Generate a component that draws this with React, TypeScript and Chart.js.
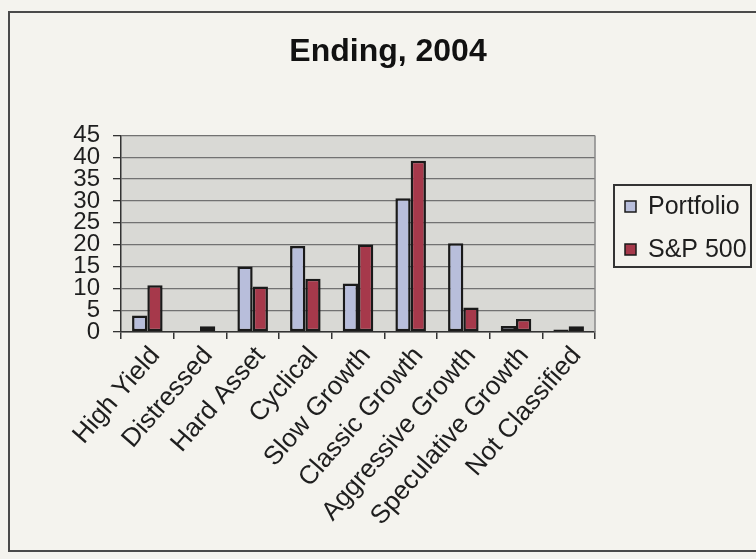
import React, { useEffect, useRef } from 'react';
import { Chart, registerables } from 'chart.js';

Chart.register(...registerables);

const TITLE = 'Ending, 2004';
const categories = [
  'High Yield',
  'Distressed',
  'Hard Asset',
  'Cyclical',
  'Slow Growth',
  'Classic Growth',
  'Aggressive Growth',
  'Speculative Growth',
  'Not Classified',
];
const seriesNames = ['Portfolio', 'S&P 500'];
const portfolio = [3.8, 0, 15.0, 19.7, 11.1, 30.6, 20.3, 1.4, 0.6];
const sp500 = [10.7, 1.3, 10.4, 12.2, 20.0, 39.2, 5.6, 3.0, 1.3];
const yMin = 0;
const yMax = 45;
const yStep = 5;

const seriesColors = ['#b8bedb', '#a6394b'];
const FONT = '"Liberation Sans", Arial, Helvetica, sans-serif';
const PAGE_BG = '#f4f3ee';
const PLOT_BG = '#d9d9d5';

const backgroundPlugin = {
  id: 'bgFrame',
  beforeDraw(chart: any) {
    const { ctx, chartArea, width, height } = chart;
    ctx.save();
    ctx.fillStyle = PAGE_BG;
    ctx.fillRect(0, 0, width, height);
    ctx.strokeStyle = '#4a4a4a';
    ctx.lineWidth = 2;
    ctx.strokeRect(9, 12, width + 20, 539);
    ctx.fillStyle = PLOT_BG;
    ctx.fillRect(chartArea.left, chartArea.top, chartArea.right - chartArea.left, chartArea.bottom - chartArea.top);
    ctx.restore();
  },
  afterDatasetsDraw(chart: any) {
    const { ctx, chartArea } = chart;
    ctx.save();
    ctx.strokeStyle = '#888';
    ctx.lineWidth = 1.5;
    ctx.beginPath();
    ctx.moveTo(chartArea.right, chartArea.top);
    ctx.lineTo(chartArea.right, chartArea.bottom);
    ctx.stroke();
    ctx.restore();
  },
};

const legendBoxPlugin = {
  id: 'legendBox',
  afterDraw(chart: any) {
    const { ctx } = chart;
    const ds = chart.data.datasets;
    ctx.save();
    ctx.fillStyle = PAGE_BG;
    ctx.fillRect(614, 185, 137, 82);
    ctx.strokeStyle = '#333';
    ctx.lineWidth = 2;
    ctx.strokeRect(614, 185, 137, 82);
    ctx.font = `25px ${FONT}`;
    ctx.textBaseline = 'middle';
    ctx.textAlign = 'left';
    ds.forEach((d: any, i: number) => {
      const cy = 207 + i * 43;
      ctx.fillStyle = d.backgroundColor;
      ctx.fillRect(625, cy - 6, 11, 11);
      ctx.strokeStyle = '#1a1a1a';
      ctx.lineWidth = 1.5;
      ctx.strokeRect(625, cy - 6, 11, 11);
      ctx.fillStyle = '#1e1e1e';
      ctx.fillText(d.label, 648, cy);
    });
    ctx.restore();
  },
};

export default function App() {
  const ref = useRef<HTMLCanvasElement | null>(null);

  useEffect(() => {
    document.body.style.margin = '0';
    const canvas = ref.current;
    if (!canvas) return;
    Chart.defaults.font.family = FONT;
    const chart = new Chart(canvas, {
      type: 'bar',
      data: {
        labels: categories,
        datasets: [
          {
            label: seriesNames[0],
            data: portfolio,
            backgroundColor: seriesColors[0],
            borderColor: '#1a1a1a',
            borderWidth: 2.5,
            borderSkipped: false,
            categoryPercentage: 0.58,
            barPercentage: 1,
          },
          {
            label: seriesNames[1],
            data: sp500,
            backgroundColor: seriesColors[1],
            borderColor: '#1a1a1a',
            borderWidth: 2.5,
            borderSkipped: false,
            categoryPercentage: 0.58,
            barPercentage: 1,
          },
        ],
      },
      options: {
        responsive: false,
        animation: false,
        devicePixelRatio: 1,
        layout: { padding: { left: 20, top: 0, right: 0, bottom: 0 } },
        plugins: {
          legend: { display: false },
          tooltip: { enabled: false },
          title: {
            display: true,
            text: TITLE,
            color: '#111',
            font: { size: 32, weight: 'bold', family: FONT },
            padding: { top: 33, bottom: 64 },
          },
        },
        scales: {
          x: {
            grid: {
              offset: true,
              drawOnChartArea: false,
              drawTicks: true,
              tickLength: 7,
              tickColor: '#333',
              color: '#333',
              lineWidth: 1.5,
            },
            border: { display: true, color: '#333', width: 1.5 },
            ticks: {
              autoSkip: false,
              maxRotation: 49,
              minRotation: 49,
              color: '#1e1e1e',
              font: { size: 26, family: FONT },
              padding: 2,
              labelOffset: 8,
            },
            afterFit(s: any) {
              s.height = 227;
            },
          },
          y: {
            min: yMin,
            max: yMax,
            grid: {
              color: '#727272',
              lineWidth: 1.3,
              drawTicks: true,
              tickLength: 8,
              tickColor: '#333',
            },
            border: { display: true, color: '#333', width: 1.5 },
            ticks: {
              stepSize: yStep,
              autoSkip: false,
              color: '#1e1e1e',
              font: { size: 24, family: FONT },
              padding: 13,
            },
            afterFit(s: any) {
              s.width = 101;
            },
          },
          yRight: {
            type: 'linear',
            position: 'right',
            display: true,
            grid: { display: false, drawTicks: false },
            border: { display: false },
            ticks: { display: false },
            afterFit(s: any) {
              s.width = 161;
            },
          },
        },
      },
      plugins: [backgroundPlugin, legendBoxPlugin],
    } as any);
    return () => chart.destroy();
  }, []);

  return (
    <div style={{ width: 756, height: 559 }}>
      <canvas ref={ref} width={756} height={559} style={{ display: 'block' }} />
    </div>
  );
}
